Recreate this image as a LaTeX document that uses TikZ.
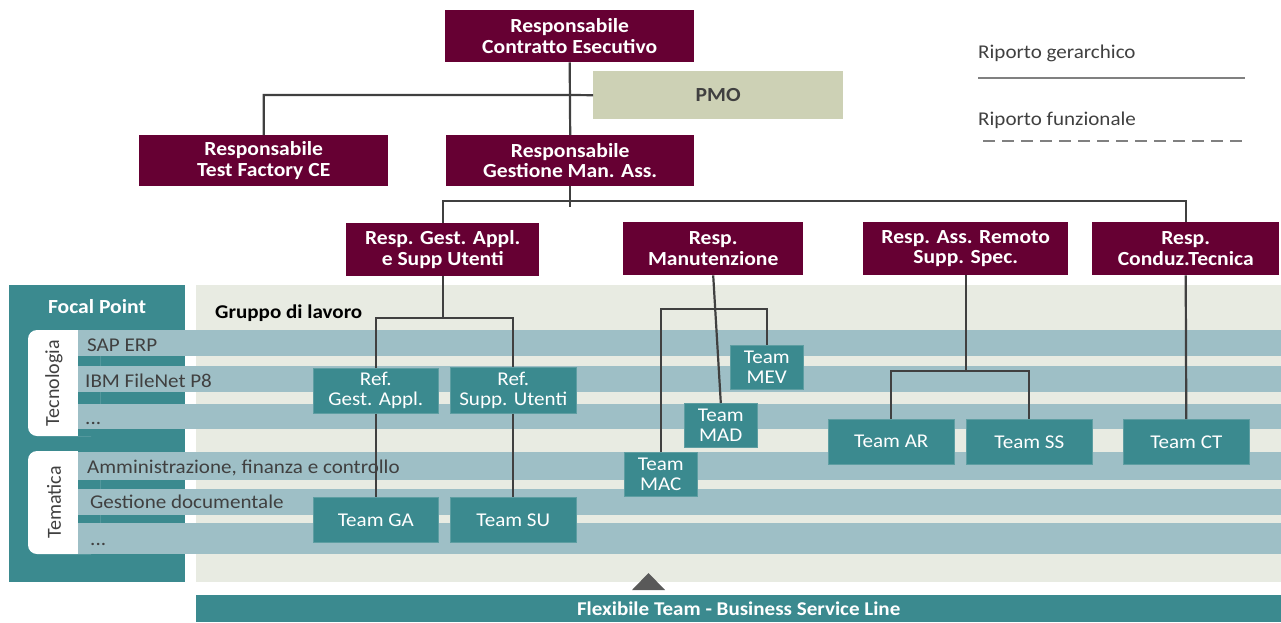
\documentclass[tikz,border=0pt]{standalone}
\usepackage{fontspec}
\setmainfont{Carlito}[FakeStretch=1.08]
\newfontfamily\uprightlabel{Carlito}
\definecolor{maroon}{HTML}{660033}
\definecolor{tealbox}{HTML}{3B8A8F}
\definecolor{tealedge}{HTML}{5E9EA2}
\definecolor{stripe}{HTML}{9EBFC6}
\definecolor{panel}{HTML}{E8EBE2}
\definecolor{pmofill}{HTML}{CDD1B5}
\definecolor{ink}{HTML}{404040}
\definecolor{legendgray}{HTML}{808080}
\definecolor{marker}{HTML}{595959}
\begin{document}
\begin{tikzpicture}[x=1pt,y=-1pt,
  resp/.style={fill=maroon, text=white, font=\bfseries\fontsize{20}{20.5}\selectfont,
    align=center, inner sep=0pt, anchor=north west},
  team/.style={fill=tealbox, draw=tealedge, line width=0.6pt, text=white,
    font=\fontsize{19.5}{20}\selectfont, align=center, inner sep=0pt, anchor=north west},
  rowtext/.style={text=ink, font=\fontsize{19.5}{20}\selectfont, inner sep=0pt, anchor=base west},
  sidetag/.style={text=ink, font=\uprightlabel\fontsize{20}{22}\selectfont, inner sep=0pt, rotate=90},
  conn/.style={draw=ink, line width=2.2pt},
  legendline/.style={draw=legendgray, line width=2.6pt},
  wh/.style 2 args={minimum width=#1pt, minimum height=#2pt}]
\useasboundingbox (0,0) rectangle (1281,622);

% ---------- lower panels ----------
\fill[tealbox] (9,285) rectangle (185,582);
\fill[panel] (196,285) rectangle (1281,582);
\node[anchor=center, text=white, font=\bfseries\fontsize{20}{20}\selectfont, inner sep=0pt] (fp) at (97,307) {Focal Point};
\node[anchor=base west, text=black, font=\bfseries\fontsize{19.5}{20}\selectfont, inner sep=0pt] (gl) at (215,318) {Gruppo di lavoro};

% side tags
\fill[white, rounded corners=9pt] (28,330) rectangle (100,436);
\fill[white, rounded corners=9pt] (28,451) rectangle (100,554);
\fill[tealbox] (78,330) rectangle (100,436);
\fill[tealbox] (78,451) rectangle (100,554);

% rows
\foreach \a/\b in {330/356, 366/392, 404/429, 452/480, 489/515, 523/554}
  \fill[stripe] (78,\a) rectangle (1281,\b);

\node[sidetag] (tec) at (54,383) {Tecnologia};
\node[sidetag] (tem) at (54,502.5) {Tematica};

\node[rowtext] (r1) at (87,351) {SAP ERP};
\node[rowtext] (r2) at (85,387) {IBM FileNet P8};
\node[rowtext] (r3) at (85,424) {...};
\node[rowtext] (r4) at (87,473) {Amministrazione, finanza e controllo};
\node[rowtext] (r5) at (90,508) {Gestione documentale};
\node[rowtext] (r6) at (90,545) {...};

% ---------- management boxes ----------
\node[resp, wh={249}{52}] (rce) at (445,10) {Responsabile\\Contratto Esecutivo};
\node[fill=pmofill, text=ink, font=\bfseries\fontsize{20}{20}\selectfont, inner sep=0pt,
  anchor=north west, wh={250}{48}] (pmo) at (593,71) {PMO};
\node[resp, wh={249}{51}] (rtf) at (139,135) {Responsabile\\Test Factory CE};
\node[resp, wh={248}{51}] (rgm) at (446,135) {Responsabile\\Gestione Man. Ass.};
\node[resp, wh={193}{53}] (rga) at (346,223) {Resp. Gest. Appl.\\e Supp Utenti};
\node[resp, wh={180}{53}] (rman) at (623,222) {Resp.\\Manutenzione};
\node[resp, wh={205}{53}] (rar) at (863,222) {Resp. Ass. Remoto\\Supp. Spec.};
\node[resp, wh={187}{53}] (rct) at (1092,222) {Resp.\\Conduz.Tecnica};

% ---------- teams ----------
\node[team, wh={125}{45}] (refga) at (313,368) {Ref.\\Gest. Appl.};
\node[team, wh={126}{46}] (refsu) at (450,367) {Ref.\\Supp. Utenti};
\node[team, wh={125}{45}] (tga) at (313,497) {Team GA};
\node[team, wh={126}{45}] (tsu) at (450,497) {Team SU};
\node[team, wh={73}{44}] (tmev) at (730,345) {Team\\MEV};
\node[team, wh={73}{44}] (tmad) at (684,403) {Team\\MAD};
\node[team, wh={73}{44}] (tmac) at (624,452) {Team\\MAC};
\node[team, wh={126}{45}] (tar) at (828,419) {Team AR};
\node[team, wh={126}{45}] (tss) at (966,419) {Team SS};
\node[team, wh={126}{45}] (tct) at (1123,419) {Team CT};

% ---------- connectors ----------
\coordinate (j1) at (570,95);
\coordinate (bus2) at (570,201);
\coordinate (stub2) at (570,207);
\coordinate (bus3) at (0,318);
\coordinate (bus4) at (0,309);
\coordinate (bus5) at (0,371);

\draw[conn] (rce.south) -- (rgm.north);
\draw[conn] (rtf.north) |- (j1) -- (pmo.west);
\draw[conn] (rgm.south) -- (rgm.south |- stub2);
\draw[conn] (rga.north) -- (rga.north |- bus2) -- (rct.north |- bus2) -- (rct.north);

\draw[conn] (rga.south) -- (rga.south |- bus3);
\draw[conn] (refga.north) -- (refga.north |- bus3) -- (refsu.north |- bus3) -- (refsu.north);
\draw[conn] (refga.south) -- (tga.north);
\draw[conn] (refsu.south) -- (tsu.north);

\draw[conn] (rman.south) -- (tmad.north);
\draw[conn] (tmac.north) -- (tmac.north |- bus4) -- (tmev.north |- bus4) -- (tmev.north);

\draw[conn] (rar.south) -- (rar.south |- bus5);
\draw[conn] (tar.north) -- (tar.north |- bus5) -- (tss.north |- bus5) -- (tss.north);
\draw[conn] (rct.south) -- (tct.north);

% ---------- flexible team bar ----------
\fill[marker] (632,590) -- (648.5,573) -- (665,590) -- cycle;
\node[fill=tealbox, text=white, font=\bfseries\fontsize{19.5}{20}\selectfont, inner sep=0pt,
  anchor=north west, wh={1085}{27}] (flex) at (196,595) {Flexibile Team - Business Service Line};

% ---------- legend ----------
\node[anchor=west, text=ink, font=\fontsize{19.5}{20}\selectfont, inner sep=0pt] (lg1) at (978,53) {Riporto gerarchico};
\node[anchor=west, text=ink, font=\fontsize{19.5}{20}\selectfont, inner sep=0pt] (lg2) at (978,120) {Riporto funzionale};
\coordinate (l1a) at (978,78);
\coordinate (l1b) at (1245,78);
\coordinate (l2a) at (983,141);
\coordinate (l2b) at (1245,141);
\draw[legendline] (l1a) -- (l1b);
\draw[legendline, dash pattern=on 12pt off 7pt] (l2a) -- (l2b);
\end{tikzpicture}
\end{document}
